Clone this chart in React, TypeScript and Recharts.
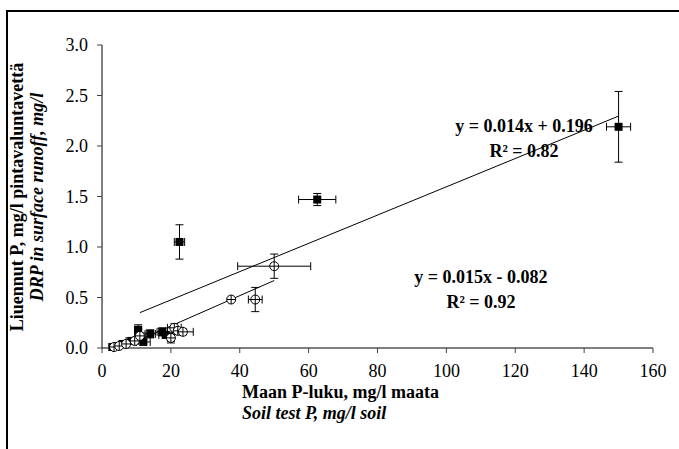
import { ScatterChart, Scatter, XAxis, YAxis, ErrorBar, ReferenceLine } from "recharts";

const serif = "'Liberation Serif', 'Times New Roman', serif";

const xTicks = [0, 20, 40, 60, 80, 100, 120, 140, 160];
const yTicks = [0, 0.5, 1, 1.5, 2, 2.5, 3];

// filled squares
const sqX = [3, 4.5, 6, 8.5, 10.5, 12, 14, 17.5, 18.5, 22.5, 62.5, 150];
const sqY = [0.01, 0.02, 0.04, 0.07, 0.18, 0.06, 0.14, 0.16, 0.13, 1.05, 1.47, 2.19];
const sqXErr = [0.5, 0.8, 1, 1.5, 1, 2, 1.5, 1.5, 2, 1.5, 5.4, 3.5];
const sqYErr = [0.01, 0.01, 0.02, 0.03, 0.05, 0.02, 0.04, 0.04, 0.03, 0.17, 0.06, 0.35];

// open circles
const ciX = [3.5, 5, 7, 9.5, 11, 20, 21, 22, 23.5, 37.5, 44.5, 50];
const ciY = [0.01, 0.02, 0.04, 0.07, 0.12, 0.1, 0.2, 0.17, 0.16, 0.48, 0.48, 0.81];
const ciXErr = [0.5, 0.5, 1, 1, 1.5, 1, 2, 1.5, 3, 0.5, 2, 10.6];
const ciYErr = [0.01, 0.01, 0.02, 0.02, 0.03, 0.05, 0.04, 0.03, 0.03, 0.02, 0.12, 0.12];

// trend lines: slope, intercept, x range
const fitSq = { slope: 0.014, icept: 0.196, from: 11, to: 150 };
const fitCi = { slope: 0.015, icept: -0.082, from: 3, to: 50 };

const sqData = sqX.map((x, i) => ({ x, y: sqY[i], ex: sqXErr[i], ey: sqYErr[i] }));
const ciData = ciX.map((x, i) => ({ x, y: ciY[i], ex: ciXErr[i], ey: ciYErr[i] }));

const seg = (f: typeof fitSq) => [
  { x: f.from, y: f.slope * f.from + f.icept },
  { x: f.to, y: f.slope * f.to + f.icept },
];

const Square = (props: any) => {
  const { cx, cy } = props;
  return <rect x={cx - 4} y={cy - 4} width={8} height={8} fill="#000" />;
};

const CrossCircle = (props: any) => {
  const { cx, cy } = props;
  return (
    <g>
      <circle cx={cx} cy={cy} r={4.5} fill="#fff" stroke="#000" strokeWidth={1} />
      <line x1={cx - 4.5} y1={cy} x2={cx + 4.5} y2={cy} stroke="#000" />
      <line x1={cx} y1={cy - 4.5} x2={cx} y2={cy + 4.5} stroke="#000" />
    </g>
  );
};

const tickCss = { fontFamily: serif, fontSize: 18, fill: "#000" };

const XTick = (props: any) => {
  const { x, y, payload } = props;
  return (
    <text x={x} y={y + 12} textAnchor="middle" style={tickCss}>
      {payload.value}
    </text>
  );
};

const YTick = (props: any) => {
  const { x, y, payload } = props;
  return (
    <text x={x} y={y + 6} textAnchor="end" style={tickCss}>
      {Number(payload.value).toFixed(1)}
    </text>
  );
};

export default function App() {
  return (
    <div
      style={{
        position: "fixed",
        left: 0,
        top: 0,
        width: 679,
        height: 449,
        overflow: "hidden",
        background: "#fff",
      }}
    >
      <div
        style={{
          position: "absolute",
          left: 6,
          top: 10,
          width: 800,
          height: 600,
          borderTop: "2px solid #000",
          borderLeft: "2px solid #000",
        }}
      />
      <div style={{ position: "absolute", left: 0, top: 0, fontFamily: serif }}>
        <ScatterChart
          width={679}
          height={449}
          margin={{ top: 45, right: 26, bottom: 71, left: 0 }}
          style={{ fontFamily: serif }}
        >
          <XAxis
            type="number"
            dataKey="x"
            domain={[0, 160]}
            ticks={xTicks}
            interval={0}
            height={30}
            tickSize={5}
            tickMargin={12}
            axisLine={{ stroke: "#808080", strokeWidth: 2 }}
            tickLine={{ stroke: "#404040" }}
            tick={XTick}
          />
          <YAxis
            type="number"
            dataKey="y"
            domain={[0, 3]}
            ticks={yTicks}
            interval={0}
            width={102}
            tickSize={5}
            tickMargin={9}
            axisLine={{ stroke: "#000", strokeWidth: 1 }}
            tickLine={{ stroke: "#404040" }}
            tick={YTick}
          />
          <ReferenceLine segment={seg(fitSq)} stroke="#000" strokeWidth={1} ifOverflow="visible" />
          <ReferenceLine segment={seg(fitCi)} stroke="#000" strokeWidth={1} ifOverflow="visible" />
          <Scatter data={sqData} shape={Square} isAnimationActive={false}>
            <ErrorBar dataKey="ex" direction="x" width={4} stroke="#000" strokeWidth={1} />
            <ErrorBar dataKey="ey" direction="y" width={4} stroke="#000" strokeWidth={1} />
          </Scatter>
          <Scatter data={ciData} shape={CrossCircle} isAnimationActive={false}>
            <ErrorBar dataKey="ex" direction="x" width={4} stroke="#000" strokeWidth={1} />
            <ErrorBar dataKey="ey" direction="y" width={4} stroke="#000" strokeWidth={1} />
          </Scatter>
        </ScatterChart>
      </div>
      <svg
        width={679}
        height={449}
        style={{ position: "absolute", left: 0, top: 0, pointerEvents: "none" }}
        fontFamily={serif}
        fontSize={18}
        fontWeight="bold"
      >
        <text transform="translate(23,197) rotate(-90)" textAnchor="middle">
          Liuennut P, mg/l pintavaluntavettä
        </text>
        <text transform="translate(43,197) rotate(-90)" textAnchor="middle" fontStyle="italic">
          DRP in surface runoff, mg/l
        </text>
        <text x={242} y={398}>Maan P-luku, mg/l maata</text>
        <text x={242} y={419} fontStyle="italic">Soil test P, mg/l soil</text>
        <text x={524} y={132} textAnchor="middle">y = 0.014x + 0.196</text>
        <text x={524} y={157} textAnchor="middle">R² = 0.82</text>
        <text x={481} y={283} textAnchor="middle">y = 0.015x - 0.082</text>
        <text x={481} y={308} textAnchor="middle">R² = 0.92</text>
      </svg>
    </div>
  );
}
